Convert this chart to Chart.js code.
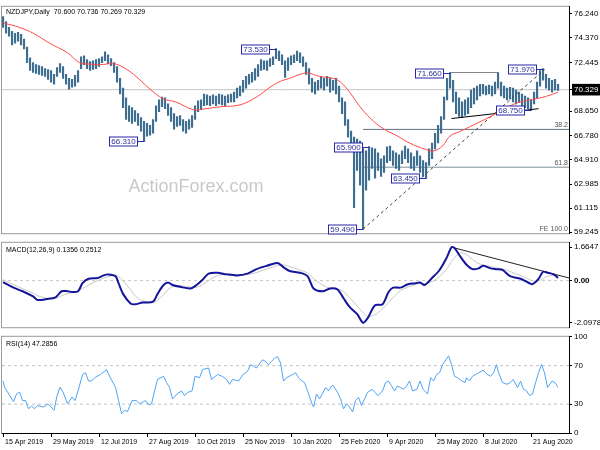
<!DOCTYPE html>
<html><head><meta charset="utf-8">
<script src="https://cdn.jsdelivr.net/npm/chart.js@4.4.1/dist/chart.umd.min.js"></script>
<style>
html,body{margin:0;padding:0;background:#fff;width:600px;height:450px;overflow:hidden;position:relative}
canvas{position:absolute;left:0}
#c1{top:0}#c2{top:236px}#c3{top:330px}
</style></head><body>
<canvas id="c1" width="600" height="240"></canvas>
<canvas id="c2" width="600" height="98"></canvas>
<canvas id="c3" width="600" height="120"></canvas>
<script>
// ---------- DATA ----------
const title = 'NZDJPY,Daily  70.600 70.736 70.269 70.329';
const BAR_STEP = 2; // each bar = 2 trading days
const highs = [76.01,75.63,75.17,74.87,74.72,74.79,74.64,74.26,73.65,72.81,
72.43,72.28,72.20,72.13,71.97,71.90,71.82,71.52,72.05,72.35,
72.13,71.52,71.21,71.13,71.44,71.82,72.89,72.96,72.66,72.51,
72.58,72.66,72.74,72.89,73.27,73.04,72.74,72.43,72.13,71.21,
70.45,69.69,69.08,68.93,68.70,68.47,68.16,67.86,67.71,67.55,
68.01,69.08,69.53,69.76,69.69,69.23,68.93,68.47,68.24,68.32,
68.01,67.86,68.01,68.32,69.08,69.46,69.53,69.99,69.92,69.84,
69.92,69.84,69.99,69.92,69.84,69.92,69.99,70.14,70.45,70.60,
71.06,71.36,71.52,71.67,71.97,72.28,72.66,72.58,72.58,72.74,
72.89,73.53,73.34,73.04,72.58,72.81,72.96,73.04,73.34,73.19,
72.89,72.43,71.97,71.21,70.91,71.06,71.36,71.21,71.36,71.21,
71.06,71.21,70.60,69.69,69.38,68.01,67.10,66.64,66.49,66.33,
65.75,65.57,65.90,65.80,65.72,65.42,64.96,65.19,65.88,65.95,
65.57,65.42,65.27,65.57,65.95,65.72,65.42,65.12,65.57,65.19,
64.81,64.66,65.72,66.18,66.94,67.55,68.24,69.76,71.21,71.66,
71.06,70.14,69.69,69.38,69.53,69.69,70.30,70.45,70.60,70.75,
70.75,70.60,70.68,70.60,70.91,71.66,70.91,70.60,70.45,70.52,
70.45,70.30,70.14,69.99,69.84,69.69,69.53,70.14,70.91,71.82,
71.97,71.52,71.21,71.06,71.13,70.736];
const lows = [75.17,74.72,74.49,73.80,73.95,74.11,73.80,73.50,72.43,71.82,
71.67,71.59,71.52,71.44,71.36,71.13,70.91,70.75,71.36,71.67,
71.21,70.75,70.37,70.52,70.60,70.91,71.97,72.28,71.97,71.82,
71.90,71.97,72.13,72.43,72.58,72.35,72.20,71.67,70.91,69.99,
68.93,68.01,67.86,67.71,67.86,67.55,67.10,66.31,66.72,66.79,
66.94,67.86,68.62,69.00,68.85,68.32,67.86,67.25,67.48,67.55,
67.10,66.94,67.25,67.40,68.01,68.62,68.77,69.08,69.15,69.08,
69.23,69.08,69.23,69.15,69.08,69.31,69.38,69.38,69.69,69.84,
70.14,70.45,70.75,70.91,71.06,71.36,71.82,71.90,71.82,72.13,
72.28,72.74,72.58,72.28,71.29,71.82,72.28,72.43,72.58,72.43,
72.13,71.52,70.75,70.14,69.99,70.30,70.45,70.30,70.60,70.14,
70.30,69.99,69.38,68.47,67.55,66.64,65.57,61.15,64.05,62.91,
59.49,62.52,63.29,64.20,63.44,64.05,63.59,63.90,64.66,64.81,
64.43,64.20,64.05,64.58,64.96,64.66,64.20,64.05,64.43,63.90,
63.59,63.45,64.43,64.96,65.72,66.18,66.94,68.01,69.53,70.45,
69.38,68.47,68.24,68.16,68.32,68.47,68.93,69.23,69.53,69.84,
69.99,69.92,69.99,69.84,69.99,70.45,69.84,69.69,69.53,69.61,
69.38,69.23,69.31,69.08,68.93,68.85,68.75,69.23,69.69,70.60,
71.06,70.45,70.30,70.14,70.30,70.269];
const maIdx = [0,11,20,31,43,51,58,65,73,78,87,98,107,115,127,135,145,158,169,178,185,191,198,203,211,220,225,231,238,245,253,263,271,281,287,293,298,305,313,325,333,343,351,358,365,370];
const maVal = [75.52,75.17,74.72,73.95,73.19,72.43,72.32,72.28,72.35,72.20,71.52,70.37,69.61,69.38,68.77,68.85,69.00,69.15,69.76,70.52,70.98,71.21,71.52,71.63,71.36,71.21,70.91,70.14,69.00,68.09,67.33,66.72,66.18,65.72,65.57,65.95,66.72,67.10,67.55,68.24,68.77,69.31,69.53,69.69,69.92,70.14];
const curPrice = 70.329;
const priceTicks = [76.240,74.370,72.445,70.329,68.650,66.780,64.910,62.985,61.115,59.245];
const markIdx = [94,182,244,240,282,298,360,352];
const markVal = [66.310,73.530,65.900,59.490,63.450,71.660,71.970,68.750];
const resistLine = [[298,71.66],[330,71.66]];
const trendSolid = [[299,68.085],[357,68.85]];
const trendDashed = [[240,59.49],[361,71.90]];
const fibStart = 240;
const fibLevels = [67.24,64.30,59.17];
const fibNames = ['38.2','61.8','FE 100.0'];

const macdIdx = [0,7,13,20,23,29,35,39,43,46,50,53,57,63,67,70,75,77,80,85,88,93,100,103,107,110,113,118,125,129,133,137,143,149,156,163,169,176,183,187,191,198,203,207,213,218,223,227,231,236,240,243,248,253,257,260,265,270,275,278,281,286,291,296,299,301,305,309,313,317,320,325,329,333,338,345,351,353,357,360,363,367,370];
const macdVal = [-0.07,-0.35,-0.53,-0.79,-0.96,-0.92,-0.83,-0.53,-0.53,-0.57,-0.53,-0.13,0.09,0.13,0.26,0.31,0.22,-0.13,-0.66,-1.14,-1.18,-1.09,-1.05,-0.66,-0.22,-0.09,-0.22,-0.31,-0.39,-0.22,0.04,0.35,0.39,0.31,0.26,0.35,0.57,0.74,0.88,0.66,0.48,0.39,0.22,-0.39,-0.53,-0.39,-0.44,-0.88,-1.31,-1.66,-2.0978,-1.88,-1.23,-1.18,-0.57,-0.35,-0.35,-0.18,-0.13,-0.09,-0.22,0.13,0.53,1.18,1.6647,1.62,1.18,0.79,0.57,0.61,0.74,0.61,0.57,0.53,0.22,0.09,-0.13,-0.18,0.09,0.44,0.39,0.31,0.1356];
const signalVal = [0.05,-0.20,-0.40,-0.62,-0.75,-0.88,-0.88,-0.75,-0.65,-0.60,-0.55,-0.40,-0.22,0.00,0.12,0.20,0.26,0.20,0.00,-0.45,-0.75,-1.00,-1.08,-0.98,-0.70,-0.45,-0.30,-0.25,-0.33,-0.33,-0.20,0.00,0.25,0.33,0.30,0.30,0.40,0.58,0.75,0.78,0.70,0.52,0.38,0.10,-0.22,-0.38,-0.42,-0.55,-0.85,-1.25,-1.60,-1.78,-1.70,-1.40,-1.10,-0.85,-0.50,-0.32,-0.20,-0.14,-0.15,-0.05,0.20,0.60,0.95,1.15,1.38,1.30,1.05,0.85,0.78,0.70,0.63,0.58,0.45,0.25,0.05,-0.02,-0.02,0.10,0.22,0.27,0.2512];
const macdTicks = [1.6647,0,-2.0978];
const macdTrend = [[299,1.6647],[377.3,0.13]];
const macdTitle = 'MACD(12,26,9) 0.1356 0.2512';

const rsiIdx = [0,1,3,7,9,11,13,15,17,19,21,23,27,30,32,34,36,38,40,43,46,48,50,53,55,57,59,61,65,69,71,75,77,79,81,83,86,89,91,95,97,99,101,103,107,109,111,113,116,119,121,123,126,128,131,133,137,139,143,146,149,151,153,157,160,163,165,167,169,173,175,177,179,181,183,185,187,189,193,195,197,198,201,203,206,207,209,211,215,217,219,220,223,225,227,229,231,233,235,237,239,241,243,246,248,250,253,255,257,259,261,263,267,269,271,273,276,278,280,283,285,287,289,291,293,296,297,299,301,303,306,308,309,311,313,317,320,323,325,327,329,330,333,336,338,340,343,345,347,349,351,353,355,357,359,361,363,366,368,370];
const rsiVal = [54,47.6,42.5,32.6,40.5,42.5,33.7,33.7,25.2,28,25.2,28.6,27,30.3,27,23.5,38.8,47.6,42.5,30.3,37.4,33.7,43.8,60.8,62.6,54,54,57.5,60.8,65.9,59,47.3,33.7,20.1,23.5,22.5,33.7,33.7,30.3,33.7,29.3,30.3,43.8,55.7,59,52.4,47.3,35.4,40.5,43.8,38.8,42.2,43.8,59,57.5,65.9,67.6,55.7,60.8,59,55.7,50.6,55.7,54,60.8,64.2,71,69.3,67.6,76.1,74.4,71,74.4,77.8,79.4,72.7,54,57.5,60.8,62.6,57.5,55.7,52.4,43.8,30.3,27,40.5,35.4,47.3,43.8,48.9,49.6,42.2,35.4,25.2,30.3,27,21.9,33.7,37.1,28.6,35.4,42.2,45.5,42.2,38.8,43.8,52.4,54,48.9,43.8,48.9,45.5,48.9,54,43.8,45.5,54,45.5,40.5,57.5,54,60.8,62.6,71,77.8,80.2,71,59,57.5,54,52.4,57.5,54,59,62.6,65.2,60.8,59,62.6,71,64.2,52.4,50.6,52.4,55.7,47.3,54,45.5,43.8,38.8,40.5,52.4,62.6,71,62.6,47.3,54,52.4,47.2856];
const rsiTicks = [100,70,30,0];
const rsiTitle = 'RSI(14) 47.2856';

const dateIdx = [0,32,64,96,128,160,192,224,256,288,320,352];
const dateLabels = ['15 Apr 2019','29 May 2019','12 Jul 2019','27 Aug 2019','10 Oct 2019','25 Nov 2019','10 Jan 2020','25 Feb 2020','9 Apr 2020','25 May 2020','8 Jul 2020','21 Aug 2020'];

// ---------- HELPERS ----------
const FONT = '"Liberation Sans", Arial, sans-serif';
const X_MIN = -0.7, X_MAX = 377.3;
const zip = (a, b) => a.map((x, i) => ({x, y: b[i]}));
const seg = s => s.map(p => ({x: p[0], y: p[1]}));
const hline = v => [{x: X_MIN, y: v}, {x: X_MAX, y: v}];
const lineDs = (data, color, width, extra) => Object.assign({type: 'line', data, borderColor: color, borderWidth: width, pointRadius: 0, fill: false, tension: 0}, extra || {});

function xAxis(show) {
  const o = {type: 'linear', min: X_MIN, max: X_MAX, offset: false, display: show, grid: {display: false}};
  if (show) {
    Object.assign(o, {
      afterBuildTicks: s => { s.ticks = dateIdx.map(v => ({value: v})); },
      afterFit: s => { s.height = 17; },
      ticks: {autoSkip: false, maxRotation: 0, align: 'start', labelOffset: 2, padding: 1, color: '#000',
        font: {family: FONT, size: 7}, callback: v => dateLabels[dateIdx.indexOf(v)]},
      grid: {display: true, drawOnChartArea: false, drawTicks: true, tickLength: 4, tickColor: '#000'},
      border: {display: true, color: '#000', width: 1}
    });
  }
  return o;
}
function yAxis(min, max, ticks, cb, extraTicks) {
  return {
    position: 'right', min, max,
    afterBuildTicks: s => { s.ticks = ticks.map(v => ({value: v})); },
    afterFit: s => { s.width = 31; },
    ticks: Object.assign({callback: cb, color: '#000', padding: 2, font: {family: FONT, size: 8}}, extraTicks || {}),
    grid: {drawOnChartArea: false, drawTicks: true, tickLength: 3, tickColor: '#000'},
    border: {display: true, color: '#000', width: 1}
  };
}
const frame = {
  id: 'frame',
  beforeDraw(chart) {
    const {ctx, chartArea: a} = chart;
    ctx.save();
    ctx.strokeStyle = '#9a9a9a'; ctx.lineWidth = 1;
    ctx.strokeRect(a.left - 0.5, a.top - 0.5, a.right - a.left + 1, a.bottom - a.top + 1);
    ctx.restore();
  }
};
function titlePlugin(text, yOff) {
  return {
    id: 'ttl',
    afterDraw(chart) {
      const {ctx, chartArea: a} = chart;
      ctx.save();
      ctx.font = '7px ' + FONT; ctx.fillStyle = '#000';
      ctx.textAlign = 'left'; ctx.textBaseline = 'middle';
      ctx.fillText(text, a.left + 4, a.top + yOff);
      ctx.restore();
    }
  };
}
const common = {responsive: false, animation: false, devicePixelRatio: 1,
  plugins: {legend: {display: false}, tooltip: {enabled: false}}};

// ---------- MAIN PRICE PANEL ----------
const mainDeco = {
  id: 'mainDeco',
  beforeDatasetsDraw(chart) {
    const {ctx, chartArea: a} = chart;
    ctx.save();
    ctx.font = '18px ' + FONT; ctx.fillStyle = '#c9c9c9';
    ctx.textAlign = 'center'; ctx.textBaseline = 'middle';
    ctx.fillText('ActionForex.com', a.left + (a.right - a.left) * 0.342, a.top + (a.bottom - a.top) * 0.797);
    ctx.restore();
  },
  afterDatasetsDraw(chart) {
    const {ctx, chartArea: a} = chart;
    const xs = chart.scales.x, ys = chart.scales.y;
    ctx.save();
    ctx.font = '7px ' + FONT; ctx.fillStyle = '#555'; ctx.textAlign = 'right'; ctx.textBaseline = 'bottom';
    fibLevels.forEach((v, i) => {
      const py = Math.min(ys.getPixelForValue(v), a.bottom);
      ctx.fillText(fibNames[i], a.right - 1, py - 0.5);
    });
    markIdx.forEach((ix, i) => {
      const v = markVal[i];
      const px = xs.getPixelForValue(ix), py = Math.round(ys.getPixelForValue(v)) + 0.5;
      const w = 28, h = 9;
      const bx = Math.round(px - 7 - w) + 0.5, by = Math.round(py - h / 2);
      ctx.fillStyle = '#fff'; ctx.fillRect(bx, by, w, h);
      ctx.strokeStyle = '#2828a8'; ctx.lineWidth = 1; ctx.strokeRect(bx, by, w, h);
      ctx.beginPath(); ctx.moveTo(bx + w, py); ctx.lineTo(Math.round(px) + 0.5, py); ctx.stroke();
      ctx.fillStyle = '#30309a'; ctx.font = '8px ' + FONT; ctx.textAlign = 'center'; ctx.textBaseline = 'middle';
      ctx.fillText(v.toFixed(3), bx + w / 2, by + h / 2 + 0.5);
    });
    ctx.restore();
  }
};
new Chart(document.getElementById('c1'), {
  type: 'bar',
  data: {datasets: [
    lineDs(zip(maIdx, maVal), '#ff4848', 1, {tension: 0.4, order: 1}),
    lineDs(seg(trendSolid), '#000', 1, {order: 2}),
    lineDs(seg(trendDashed), '#444', 1, {borderDash: [3, 3], order: 2}),
    {type: 'bar', data: highs.map((h, k) => ({x: k * BAR_STEP, y: [lows[k], h]})),
      backgroundColor: '#3f6f90', borderWidth: 0, barThickness: 1.5, order: 5},
    lineDs(seg(resistLine), '#808080', 1, {order: 6}),
    lineDs([{x: fibStart, y: fibLevels[0]}, {x: X_MAX, y: fibLevels[0]}], '#5c7180', 1, {order: 7}),
    lineDs([{x: fibStart, y: fibLevels[1]}, {x: X_MAX, y: fibLevels[1]}], '#7f8f98', 1, {order: 7}),
    lineDs(hline(curPrice), '#c4c4c4', 1, {order: 9})
  ]},
  options: Object.assign({}, common, {
    layout: {padding: {left: 2, right: 0, top: 3, bottom: 6}},
    scales: {
      x: xAxis(false),
      y: yAxis(59.167, 76.774, priceTicks, v => v.toFixed(3), {
        color: c => c.tick && c.tick.value === curPrice ? '#fff' : '#000',
        showLabelBackdrop: c => !!(c.tick && c.tick.value === curPrice),
        backdropColor: '#000', backdropPadding: {x: 2, y: 1}
      })
    }
  }),
  plugins: [frame, mainDeco, titlePlugin(title, 5)]
});

// ---------- MACD PANEL ----------
new Chart(document.getElementById('c2'), {
  type: 'line',
  data: {datasets: [
    lineDs(zip(macdIdx, macdVal), '#14149c', 2, {tension: 0.3, order: 1}),
    lineDs(seg(macdTrend), '#222', 1, {order: 2}),
    lineDs(zip(macdIdx, signalVal), '#c6c6c6', 1, {tension: 0.3, order: 3}),
    lineDs(hline(0), '#c4c4c4', 1, {borderDash: [3, 3], order: 4})
  ]},
  options: Object.assign({}, common, {
    layout: {padding: {left: 2, right: 0, top: 1, bottom: 1}},
    scales: {
      x: xAxis(false),
      y: yAxis(-2.319, 1.882, macdTicks, v => v === 0 ? '0.00' : String(v), {
        font: c => ({family: FONT, size: 8, weight: (c.tick && c.tick.value === 0) ? 'bold' : 'normal'})
      })
    }
  }),
  plugins: [frame, titlePlugin(macdTitle, 7.5)]
});

// ---------- RSI PANEL ----------
new Chart(document.getElementById('c3'), {
  type: 'line',
  data: {datasets: [
    lineDs(zip(rsiIdx, rsiVal), '#4ea4f4', 1, {order: 1}),
    lineDs(hline(70), '#c4c4c4', 1, {borderDash: [3, 3], order: 4}),
    lineDs(hline(30), '#c4c4c4', 1, {borderDash: [3, 3], order: 4})
  ]},
  options: Object.assign({}, common, {
    layout: {padding: {left: 2, right: 0, top: 6, bottom: 0}},
    scales: {
      x: xAxis(true),
      y: yAxis(0, 100, rsiTicks, v => String(v))
    }
  }),
  plugins: [frame, titlePlugin(rsiTitle, 7.5)]
});
</script>
</body></html>
